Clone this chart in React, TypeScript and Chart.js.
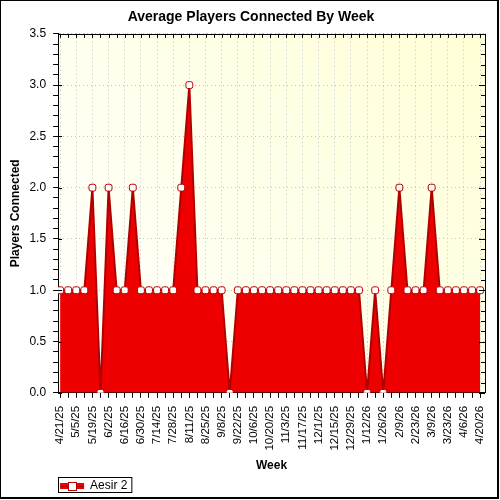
import React, { useEffect, useRef } from "react";
import { Chart, registerables } from "chart.js";

Chart.register(...registerables);

const weeks = [
  "4/21/25", "4/28/25", "5/5/25", "5/12/25", "5/19/25", "5/26/25", "6/2/25", "6/9/25",
  "6/16/25", "6/23/25", "6/30/25", "7/7/25", "7/14/25", "7/21/25", "7/28/25", "8/4/25",
  "8/11/25", "8/18/25", "8/25/25", "9/1/25", "9/8/25", "9/15/25", "9/22/25", "9/29/25",
  "10/6/25", "10/13/25", "10/20/25", "10/27/25", "11/3/25", "11/10/25", "11/17/25", "11/24/25",
  "12/1/25", "12/8/25", "12/15/25", "12/22/25", "12/29/25", "1/5/26", "1/12/26", "1/19/26",
  "1/26/26", "2/2/26", "2/9/26", "2/16/26", "2/23/26", "3/2/26", "3/9/26", "3/16/26",
  "3/23/26", "3/30/26", "4/6/26", "4/13/26", "4/20/26",
];

const playersConnected = [
  1, 1, 1, 1, 2, 0, 2, 1, 1, 2, 1, 1, 1, 1, 1, 2,
  3, 1, 1, 1, 1, 0, 1, 1, 1, 1, 1, 1, 1, 1, 1, 1,
  1, 1, 1, 1, 1, 1, 0, 1, 0, 1, 2, 1, 1, 1, 2, 1,
  1, 1, 1, 1, 1,
];

const seriesName = "Aesir 2";
const chartTitle = "Average Players Connected By Week";
const xTitle = "Week";
const yTitle = "Players Connected";
const yMax = 3.5;
const yMinorStep = 0.1;

const FONT = "'Liberation Sans', Arial, sans-serif";
const FILL = "#EE0000";
const LINE = "#B00000";
const POINT_EDGE = "#B80000";
const GRID = "#c4c4c4";

const isMajorY = (v: number) => Math.round(v * 10) % 5 === 0;

export default function App() {
  const ref = useRef<HTMLCanvasElement>(null);

  useEffect(() => {
    document.body.style.margin = "0";
    const canvas = ref.current!;

    const decor = {
      id: "decor",
      beforeDraw(chart: any) {
        const { ctx, chartArea: a, width, height } = chart;
        ctx.save();
        ctx.fillStyle = "#ffffff";
        ctx.fillRect(0, 0, width, height);
        const g = ctx.createLinearGradient(a.left, a.bottom, a.right, a.top);
        g.addColorStop(0, "#ffffff");
        g.addColorStop(1, "#ffffd6");
        ctx.fillStyle = g;
        ctx.fillRect(a.left, a.top, a.right - a.left, a.bottom - a.top);
        ctx.restore();
      },
      afterDraw(chart: any) {
        const { ctx, chartArea: a, width, height } = chart;
        const xs = chart.scales.x;
        const ys = chart.scales.y;
        ctx.save();
        ctx.strokeStyle = "#000";
        ctx.lineWidth = 1;
        ctx.beginPath();
        ctx.moveTo(a.left, Math.round(a.top) + 0.5);
        ctx.lineTo(a.right, Math.round(a.top) + 0.5);
        ctx.moveTo(Math.round(a.right) + 0.5, a.top);
        ctx.lineTo(Math.round(a.right) + 0.5, a.bottom);
        ctx.stroke();
        ctx.beginPath();
        weeks.forEach((_, i) => {
          const x = Math.round(xs.getPixelForValue(i)) + 0.5;
          ctx.moveTo(x, a.top);
          ctx.lineTo(x, a.top + 4);
        });
        for (let k = 0; k <= Math.round(yMax / yMinorStep); k++) {
          const v = k * yMinorStep;
          const y = Math.round(ys.getPixelForValue(v)) + 0.5;
          ctx.moveTo(a.right, y);
          ctx.lineTo(a.right - (isMajorY(v) ? 6 : 4), y);
        }
        for (let k = 0; k <= Math.round(yMax / yMinorStep); k++) {
          const v = k * yMinorStep;
          if (!isMajorY(v)) continue;
          const y = Math.round(ys.getPixelForValue(v)) + 0.5;
          ctx.moveTo(a.left, y);
          ctx.lineTo(a.left + 4, y);
        }
        ctx.stroke();
        const lg = chart.legend;
        if (lg && lg.legendHitBoxes && lg.legendHitBoxes.length) {
          const hb = lg.legendHitBoxes[0];
          ctx.strokeStyle = "#000";
          ctx.lineWidth = 1;
          ctx.strokeRect(Math.round(hb.left) - 1.5, Math.round(hb.top) - 2.5, hb.width + 6, hb.height + 3);
          const cy = Math.round(hb.top + hb.height / 2);
          ctx.strokeStyle = LINE;
          ctx.beginPath();
          ctx.moveTo(hb.left, cy + 0.5);
          ctx.lineTo(hb.left + 24, cy + 0.5);
          ctx.stroke();
          const cx = Math.round(hb.left + 12);
          ctx.fillStyle = "#fff";
          ctx.strokeStyle = POINT_EDGE;
          ctx.fillRect(cx - 3, cy - 3, 7, 7);
          ctx.strokeRect(cx - 3.5, cy - 3.5, 8, 8);
        }
        ctx.fillStyle = "#000";
        ctx.fillRect(0, 0, width - 1, 1);
        ctx.fillRect(0, 0, 1, height - 1);
        ctx.fillRect(width - 3, 0, 2, height - 2);
        ctx.fillRect(0, height - 3, width - 1, 2);
        ctx.restore();
      },
    };

    const chart = new Chart(canvas, {
      type: "line",
      data: {
        datasets: [
          {
            label: seriesName,
            data: playersConnected.map((v, i) => ({ x: i, y: v })),
            borderColor: LINE,
            backgroundColor: FILL,
            borderWidth: 2,
            fill: "origin",
            tension: 0,
            pointStyle: "rectRounded",
            pointRadius: 4,
            pointBackgroundColor: "#ffffff",
            pointBorderColor: POINT_EDGE,
            pointBorderWidth: 1,
          },
        ],
      },
      options: {
        responsive: false,
        animation: false,
        devicePixelRatio: 1,
        layout: { padding: { left: 2, right: 0, top: 0, bottom: -2 } },
        plugins: {
          title: {
            display: true,
            text: chartTitle,
            color: "#000",
            font: { family: FONT, size: 14, weight: "bold" },
            padding: { top: 9, bottom: 8 },
          },
          legend: {
            display: true,
            position: "bottom",
            align: "start",
            fullSize: false,
            labels: {
              boxWidth: 24,
              boxHeight: 6,
              padding: 2,
              color: "#000",
              font: { family: FONT, size: 12 },
              generateLabels: () => [
                {
                  text: seriesName,
                  fillStyle: FILL,
                  strokeStyle: FILL,
                  lineWidth: 0,
                  hidden: false,
                  datasetIndex: 0,
                },
              ],
            },
          },
          tooltip: { enabled: false },
        },
        scales: {
          x: {
            type: "linear",
            min: -0.25,
            max: weeks.length - 1 + 0.6,
            afterBuildTicks: (scale: any) => {
              scale.ticks = weeks.map((_, i) => ({ value: i }));
            },
            afterFit: (s: any) => {
              s.paddingLeft = 0;
              s.paddingRight = 0;
            },
            ticks: {
              autoSkip: false,
              maxRotation: 90,
              minRotation: 90,
              padding: 8,
              color: "#000",
              font: { family: FONT, size: 11.5 },
              callback: (v: any) => (Number(v) % 2 === 0 ? weeks[Number(v)] : ""),
            },
            grid: {
              color: (c: any) => (c.tick && c.tick.value % 2 === 0 ? GRID : "rgba(0,0,0,0)"),
              tickColor: "#000",
              tickLength: 5,
              tickBorderDash: [],
            } as any,
            border: { color: "#000", width: 1, dash: [1, 3] } as any,
            title: {
              display: true,
              text: xTitle,
              color: "#000",
              font: { family: FONT, size: 12, weight: "bold" },
              padding: { top: 0, bottom: 5 },
            },
          },
          y: {
            type: "linear",
            min: 0,
            max: yMax,
            ticks: {
              stepSize: yMinorStep,
              autoSkip: false,
              padding: 7,
              color: "#000",
              font: { family: FONT, size: 12 },
              callback: (v: any) => (isMajorY(Number(v)) ? Number(v).toFixed(1) : ""),
            },
            grid: {
              color: (c: any) => (c.tick && isMajorY(c.tick.value) ? GRID : "rgba(0,0,0,0)"),
              tickColor: "#000",
              tickLength: 5,
              tickBorderDash: [],
            } as any,
            border: { color: "#000", width: 1, dash: [1, 3] } as any,
            title: {
              display: true,
              text: yTitle,
              color: "#000",
              font: { family: FONT, size: 12, weight: "bold" },
              padding: { top: 6, bottom: 0 },
            },
          },
          yRight: {
            type: "linear",
            position: "right",
            display: true,
            afterFit: (s: any) => {
              s.width = 15;
            },
            ticks: { display: false },
            grid: { display: false, drawTicks: false },
            border: { display: false },
          },
        },
      } as any,
      plugins: [decor],
    });

    return () => chart.destroy();
  }, []);

  return (
    <div style={{ width: 500, height: 500 }}>
      <canvas ref={ref} width={500} height={500} style={{ display: "block", width: 500, height: 500 }} />
    </div>
  );
}
